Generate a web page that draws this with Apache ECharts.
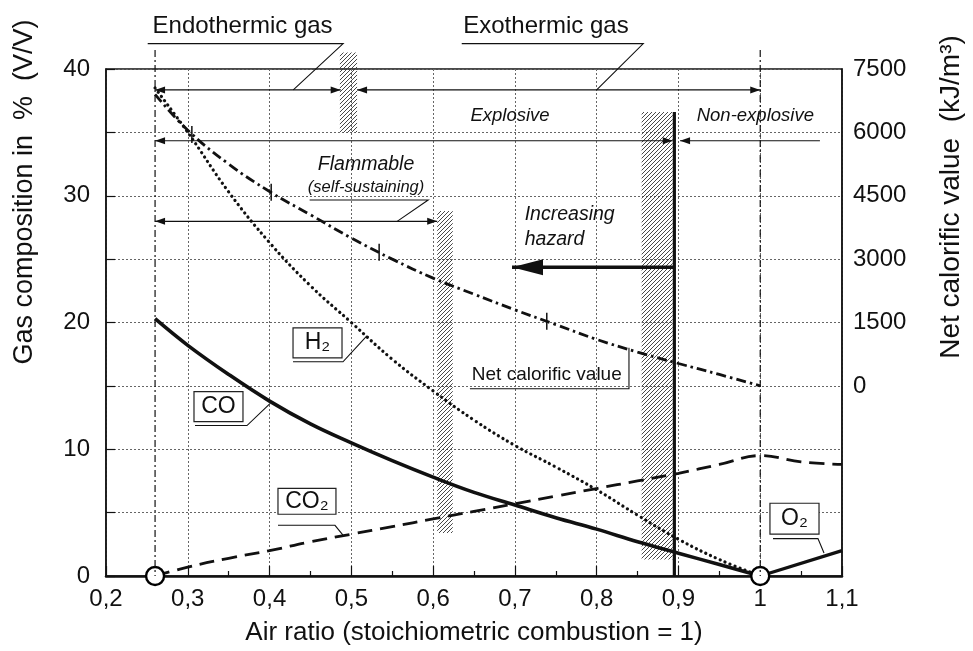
<!DOCTYPE html>
<html><head><meta charset="utf-8">
<script src="https://cdn.jsdelivr.net/npm/echarts@6/dist/echarts.min.js"></script>
<style>html,body{margin:0;padding:0;background:#fff}#c{width:973px;height:651px}</style>
</head><body><div id="c"></div>
<script>
// ---------- data ----------
const airRatio   = [0.26,0.30,0.35,0.40,0.45,0.50,0.55,0.60,0.65,0.70,0.75,0.80,0.85,0.90,0.95,1.00];
const coValues   = [20.3,18.2,15.9,13.8,12.0,10.5,9.1,7.8,6.6,5.6,4.6,3.7,2.7,1.8,0.9,0];
const h2Values   = [38.5,35.0,30.3,26.3,22.9,20.0,17.1,14.6,12.3,10.3,8.6,6.8,4.8,2.9,1.3,0];
const ncvValues  = [6900,6050,5250,4600,4050,3500,3000,2550,2170,1800,1450,1100,800,530,270,0]; // kJ/m3
const co2Ratio   = [0.26,0.30,0.35,0.40,0.45,0.50,0.55,0.60,0.65,0.70,0.75,0.80,0.85,0.90,0.95,1.00,1.05,1.10];
const co2Values  = [0,0.7,1.4,2.0,2.7,3.3,3.9,4.5,5.1,5.7,6.3,6.9,7.5,8.1,8.8,9.5,9.0,8.8];
const o2Ratio    = [1.00,1.10];
const o2Values   = [0,2.0];
const ncvTickRatio  = [0.305,0.402,0.534,0.739];
const ncvTickValues = [5950,4580,3160,1530];
const circleRatio  = [0.26,1.00];
const circleValues = [0,0];
const xTickLabels     = ['0,2','0,3','0,4','0,5','0,6','0,7','0,8','0,9','1','1,1'];
const leftTickLabels  = ['0','','10','','20','','30','','40'];
const rightTickLabels = ['','','','0','1500','3000','4500','6000','7500'];

const pairs = (xs, ys) => xs.map((x, i) => [x, ys[i]]);
const INK = '#111';
const FONT = 'Liberation Sans';

const chart = echarts.init(document.getElementById('c'), null, {renderer: 'canvas'});

const option = {
  animation: false,
  backgroundColor: '#fff',
  grid: {left: 106, right: 131, top: 69, bottom: 73, show: true, borderColor: INK, borderWidth: 1.5, backgroundColor: 'transparent'},
  xAxis: {
    type: 'value', min: 0.2, max: 1.1, interval: 0.1,
    axisLine: {show: true, onZero: false, lineStyle: {color: INK, width: 2.5}},
    axisTick: {show: true, inside: true, length: 10, lineStyle: {color: INK, width: 1.2}},
    minorTick: {show: true, splitNumber: 2, length: 5, lineStyle: {color: INK, width: 1.2}},
    axisLabel: {margin: 11, color: INK, fontSize: 24, fontFamily: FONT, formatter: (v, i) => xTickLabels[i]},
    splitLine: {show: true, lineStyle: {type: [2, 2], color: '#666', width: 1}},
    name: 'Air ratio (stoichiometric combustion = 1)', nameLocation: 'middle', nameGap: 44,
    nameTextStyle: {fontSize: 26, fontFamily: FONT, color: INK}
  },
  yAxis: [{
    type: 'value', min: 0, max: 40, interval: 5,
    axisLine: {show: true, lineStyle: {color: INK, width: 1.5}},
    axisTick: {show: true, inside: true, length: 9, lineStyle: {color: INK, width: 1.2}},
    axisLabel: {margin: 16, color: INK, fontSize: 24, fontFamily: FONT, formatter: (v, i) => leftTickLabels[i]},
    splitLine: {show: true, lineStyle: {type: [2, 2], color: '#666', width: 1}}
  }, {
    type: 'value', min: -4500, max: 7500, interval: 1500, position: 'right',
    axisLine: {show: true, lineStyle: {color: INK, width: 1.5}},
    axisTick: {show: false},
    axisLabel: {margin: 11, color: INK, fontSize: 24, fontFamily: FONT, formatter: (v, i) => rightTickLabels[i]},
    splitLine: {show: false}
  }],
  series: [
    {name: 'CO', type: 'line', data: pairs(airRatio, coValues), smooth: 0.4, symbol: 'none', clip: false, z: 5,
     lineStyle: {color: INK, width: 3.6}},
    {name: 'O2', type: 'line', data: pairs(o2Ratio, o2Values), symbol: 'none', clip: false, z: 5,
     lineStyle: {color: INK, width: 3.2}},
    {name: 'H2', type: 'line', data: pairs(airRatio, h2Values), smooth: 0.4, symbol: 'none', clip: false, z: 5,
     lineStyle: {color: INK, width: 3.2, type: [0.1, 5.2], cap: 'round'}},
    {name: 'CO2', type: 'line', data: pairs(co2Ratio, co2Values), smooth: 0.4, symbol: 'none', clip: false, z: 5,
     lineStyle: {color: INK, width: 2.8, type: [15, 8]}},
    {name: 'Net calorific value', type: 'line', yAxisIndex: 1, data: pairs(airRatio, ncvValues), smooth: 0.4, symbol: 'none', clip: false, z: 5,
     lineStyle: {color: INK, width: 2.8, type: [10, 4, 2.5, 4], cap: 'butt'}},
    {name: 'ncvTicks', type: 'scatter', yAxisIndex: 1, data: pairs(ncvTickRatio, ncvTickValues), symbol: 'rect', symbolSize: [1.5, 17],
     itemStyle: {color: INK, opacity: 1}, clip: false, z: 6},
    {name: 'circles', type: 'scatter', data: pairs(circleRatio, circleValues), symbol: 'circle', symbolSize: 18, clip: false, z: 20,
     itemStyle: {color: '#ffffff', opacity: 1, borderColor: '#000', borderWidth: 2.4}}
  ]
};
chart.setOption(option);

// ---------- annotations, placed through the chart's own scales ----------
const P = (x, y) => chart.convertToPixel({xAxisIndex: 0, yAxisIndex: 0}, [x, y]);

function hatchPattern() {
  const c = document.createElement('canvas');
  c.width = 4; c.height = 4;
  const g = c.getContext('2d');
  g.strokeStyle = '#333'; g.lineWidth = 0.9;
  g.beginPath();
  g.moveTo(0, 4); g.lineTo(4, 0);
  g.moveTo(-1, 1); g.lineTo(1, -1);
  g.moveTo(3, 5); g.lineTo(5, 3);
  g.stroke();
  return c;
}
const hatchImg = hatchPattern();

const els = [];
function poly(pts, opt = {}) {
  els.push({type: 'polyline', shape: {points: pts.map(p => P(p[0], p[1]))}, silent: true, z: opt.z || 40,
    style: {stroke: opt.color || INK, lineWidth: opt.width || 1.2, fill: null, lineDash: opt.dash || null}});
}
function head(tip, from, len, half) {
  const t = P(tip[0], tip[1]), f = P(from[0], from[1]);
  const dx = t[0] - f[0], dy = t[1] - f[1], d = Math.hypot(dx, dy), ux = dx / d, uy = dy / d;
  const bx = t[0] - ux * len, by = t[1] - uy * len;
  els.push({type: 'polygon', silent: true, z: 45, shape: {points: [t, [bx - uy * half, by + ux * half], [bx + uy * half, by - ux * half]]}, style: {fill: INK}});
}
function arrow(a, b, startHead, endHead, opt = {}) {
  poly([a, b], opt);
  const len = opt.len || 10, half = opt.half || 3.5;
  if (startHead) head(a, b, len, half);
  if (endHead) head(b, a, len, half);
}
function hatch(x1, y1, x2, y2) {
  const p1 = P(x1, y1), p2 = P(x2, y2);
  els.push({type: 'rect', silent: true, z: 1, shape: {x: p1[0], y: p1[1], width: p2[0] - p1[0], height: p2[1] - p1[1]},
    style: {fill: {image: hatchImg, repeat: 'repeat'}, stroke: null}});
}
function text(str, x, y, opt = {}) {
  const p = P(x, y);
  els.push({type: 'text', silent: true, z: 60, x: p[0], y: p[1],
    style: {text: str, x: 0, y: 0, fill: INK, fontSize: opt.size || 20, fontFamily: opt.family || FONT,
      fontStyle: opt.italic ? 'italic' : 'normal', fontWeight: opt.weight || 'normal',
      align: opt.align || 'center', verticalAlign: 'middle', textAlign: opt.align || 'center', textVerticalAlign: 'middle'}});
}
function box(label, x1, y1, x2, y2, size) {
  const p1 = P(x1, y1), p2 = P(x2, y2);
  els.push({type: 'rect', silent: true, z: 55, shape: {x: p1[0], y: p1[1], width: p2[0] - p1[0], height: p2[1] - p1[1]},
    style: {fill: '#fff', stroke: '#222', lineWidth: 1.2}});
  text(label, (x1 + x2) / 2, (y1 + y2) / 2, {size: size});
}

// vertical dash-dot reference lines (endothermic start and stoichiometric point)
poly([[0.26, 41.5], [0.26, 0]], {dash: [7, 3, 2, 3], width: 1.2});
poly([[1.0, 41.5], [1.0, 0]], {dash: [7, 3, 2, 3], width: 1.2});

// hatched boundaries
hatch(0.486, 41.3, 0.507, 35.0);
hatch(0.605, 28.8, 0.624, 3.4);
hatch(0.855, 36.6, 0.893, 1.3);

// thick explosion limit line
poly([[0.895, 36.6], [0.895, 0]], {width: 3.2, z: 42});

// gas type arrows
arrow([0.26, 38.35], [0.487, 38.35], true, true);
arrow([0.507, 38.35], [1.0, 38.35], true, true);
text('Endothermic gas', 0.367, 43.4, {size: 24});
text('Exothermic gas', 0.738, 43.4, {size: 24});
poly([[0.251, 42.0], [0.490, 42.0], [0.429, 38.35]], {width: 1.1});
poly([[0.635, 42.0], [0.857, 42.0], [0.800, 38.35]], {width: 1.1});

// explosive / non-explosive
arrow([0.26, 34.34], [0.893, 34.34], true, true);
arrow([0.902, 34.34], [1.073, 34.34], true, false);
text('Explosive', 0.694, 36.3, {size: 18.5, italic: true});
text('Non-explosive', 0.994, 36.3, {size: 18.5, italic: true});

// flammable
arrow([0.26, 27.98], [0.605, 27.98], true, true);
text('Flammable', 0.518, 32.46, {size: 19.5, italic: true});
text('(self-sustaining)', 0.518, 30.65, {size: 16.5, italic: true});
poly([[0.449, 29.67], [0.594, 29.67], [0.556, 27.98]], {width: 1.1});

// increasing hazard
text('Increasing', 0.712, 28.53, {size: 19.5, italic: true, align: 'left'});
text('hazard', 0.712, 26.56, {size: 19.5, italic: true, align: 'left'});
arrow([0.6965, 24.36], [0.895, 24.36], true, false, {width: 3.4, len: 31, half: 8});

// curve labels
box('H₂', 0.4287, 19.57, 0.4886, 17.21, 23);
poly([[0.4287, 16.9], [0.4898, 16.9], [0.519, 18.94]], {width: 1.1});
box('CO', 0.3076, 14.54, 0.3675, 12.18, 23);
poly([[0.3088, 11.87], [0.3724, 11.87], [0.4005, 13.6]], {width: 1.1});
box('CO₂', 0.4103, 6.92, 0.4812, 4.87, 23);
poly([[0.4103, 4.0], [0.480, 4.0], [0.4898, 3.22]], {width: 1.1});
box('O₂', 1.0119, 5.74, 1.0719, 3.3, 23);
poly([[1.0156, 2.95], [1.0706, 2.95], [1.078, 1.81]], {width: 1.1});
text('Net calorific value', 0.739, 15.87, {size: 19});
poly([[0.645, 14.77], [0.8395, 14.77], [0.8395, 18.0]], {width: 1.1});

// vertical axis titles
els.push({type: 'text', silent: true, z: 60, x: 25, y: 192, rotation: Math.PI / 2,
  style: {text: 'Gas composition in  %  (V/V)', x: 0, y: 0, fill: INK, fontSize: 27, fontFamily: FONT,
    align: 'center', verticalAlign: 'middle', textAlign: 'center', textVerticalAlign: 'middle'}});
els.push({type: 'text', silent: true, z: 60, x: 951, y: 197, rotation: Math.PI / 2,
  style: {text: 'Net calorific value  (kJ/m³)', x: 0, y: 0, fill: INK, fontSize: 28, fontFamily: FONT,
    align: 'center', verticalAlign: 'middle', textAlign: 'center', textVerticalAlign: 'middle'}});

chart.setOption({graphic: {elements: els}});
</script>
</body></html>
